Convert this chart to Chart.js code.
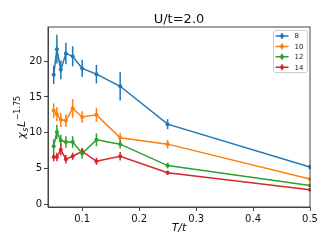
<!DOCTYPE html>
<html>
<head>
<meta charset="utf-8">
<script src="https://cdn.jsdelivr.net/npm/chart.js@4.4.0/dist/chart.umd.min.js"></script>
<style>
  html, body { margin: 0; padding: 0; background: #fff; }
  #wrap { width: 332px; height: 249px; }
</style>
</head>
<body>
<div id="wrap"><canvas id="chi"></canvas></div>
<script>
// T/t values (1/beta) and chi_s L^-1.75 per system size
const temps = [0.05, 0.0556, 0.0625, 0.0714, 0.0833, 0.1, 0.125, 0.1667, 0.25, 0.5];
const sizes = ['8', '10', '12', '14'];
const chi8 = [18.1, 21.7, 18.8, 21.1, 20.7, 19.0, 18.2, 16.5, 11.2, 5.2];
const err8 = [1.3, 2.0, 1.3, 1.5, 1.4, 1.2, 1.3, 2.0, 0.7, 0.3];
const chi10 = [13.1, 12.6, 11.8, 11.7, 13.4, 12.2, 12.5, 9.3, 8.4, 3.5];
const err10 = [1.0, 1.0, 1.0, 0.9, 1.3, 0.8, 1.0, 0.7, 0.6, 0.2];
const chi12 = [8.1, 10.1, 8.9, 8.7, 8.7, 7.1, 9.0, 8.4, 5.4, 2.6];
const err12 = [1.0, 1.0, 0.8, 0.8, 0.8, 0.7, 0.9, 0.6, 0.4, 0.2];
const chi14 = [6.6, 6.6, 7.6, 6.3, 6.7, 7.4, 6.0, 6.7, 4.4, 2.0];
const err14 = [0.6, 0.6, 0.8, 0.6, 0.5, 0.5, 0.5, 0.6, 0.3, 0.2];
const xTicks = [0.1, 0.2, 0.3, 0.4, 0.5];
const yTicks = [0, 5, 10, 15, 20];

const colors = ['#1f77b4', '#ff7f0e', '#2ca02c', '#d62728'];
const series = [chi8, chi10, chi12, chi14];
const errors = [err8, err10, err12, err14];

const datasets = series.map((vals, i) => ({
    label: sizes[i],
    data: vals.map((v, j) => ({ x: temps[j], y: v })),
    errs: errors[i],
    borderColor: colors[i],
    backgroundColor: colors[i],
    borderWidth: 1.5,
    pointRadius: 2,
    pointBorderWidth: 0,
    tension: 0,
}));

// vertical error bars
const errorBars = {
    id: 'errorBars',
    beforeDatasetsDraw(chart) {
        const { ctx, scales: { x, y } } = chart;
        ctx.save();
        chart.data.datasets.forEach(ds => {
            ctx.strokeStyle = ds.borderColor;
            ctx.lineWidth = 1.5;
            ds.data.forEach((p, j) => {
                const px = x.getPixelForValue(p.x);
                ctx.beginPath();
                ctx.moveTo(px, y.getPixelForValue(p.y - ds.errs[j]));
                ctx.lineTo(px, y.getPixelForValue(p.y + ds.errs[j]));
                ctx.stroke();
            });
        });
        ctx.restore();
    }
};

// frame, title, y label with sub/superscripts and matplotlib-style legend
const frame = {
    id: 'frame',
    afterDraw(chart) {
        const { ctx, chartArea: a } = chart;
        ctx.save();
        ctx.strokeStyle = '#444';
        ctx.lineWidth = 1;
        ctx.strokeRect(a.left, a.top, a.right - a.left, a.bottom - a.top);

        ctx.fillStyle = '#111';
        ctx.font = '13px "DejaVu Sans"';
        ctx.textAlign = 'center';
        ctx.textBaseline = 'alphabetic';
        ctx.fillText('U/t=2.0', (a.left + a.right) / 2, 23);

        // y axis label: chi_s L^{-1.75}
        const parts = [
            { t: 'χ', f: 'italic 11px "DejaVu Sans"', dy: 0 },
            { t: 's', f: 'italic 8px "DejaVu Sans"', dy: 2.5 },
            { t: 'L', f: 'italic 11px "DejaVu Sans"', dy: 0 },
            { t: '−1.75', f: '8px "DejaVu Sans"', dy: -5 },
        ];
        let total = 0;
        parts.forEach(p => { ctx.font = p.f; p.w = ctx.measureText(p.t).width; total += p.w + 0.5; });
        ctx.translate(25, (a.top + a.bottom) / 2);
        ctx.rotate(-Math.PI / 2);
        ctx.textAlign = 'left';
        let cx = -total / 2;
        parts.forEach(p => {
            ctx.font = p.f;
            ctx.fillText(p.t, cx, p.dy);
            cx += p.w + 0.5;
        });
        ctx.setTransform(1, 0, 0, 1, 0, 0);

        const bx = 273.5, by = 30.5, bw = 34, bh = 42;
        ctx.fillStyle = 'rgba(255,255,255,0.8)';
        ctx.strokeStyle = '#ccc';
        ctx.lineWidth = 1;
        ctx.beginPath();
        ctx.roundRect(bx, by, bw, bh, 2);
        ctx.fill();
        ctx.stroke();

        ctx.font = '7px "DejaVu Sans"';
        ctx.textAlign = 'left';
        ctx.textBaseline = 'middle';
        chart.data.datasets.forEach((ds, i) => {
            const ly = by + 5.5 + i * 10.4;
            ctx.strokeStyle = ds.borderColor;
            ctx.lineWidth = 1.5;
            ctx.beginPath();
            ctx.moveTo(bx + 2, ly);
            ctx.lineTo(bx + 15, ly);
            ctx.moveTo(bx + 8.5, ly - 3);
            ctx.lineTo(bx + 8.5, ly + 3);
            ctx.stroke();
            ctx.fillStyle = ds.borderColor;
            ctx.beginPath();
            ctx.arc(bx + 8.5, ly, 2, 0, Math.PI * 2);
            ctx.fill();
            ctx.fillStyle = '#222';
            ctx.fillText(ds.label, bx + 21, ly + 0.5);
        });
        ctx.restore();
    }
};

new Chart(document.getElementById('chi'), {
    type: 'line',
    data: { datasets },
    plugins: [errorBars, frame],
    options: {
        responsive: true,
        maintainAspectRatio: false,
        animation: false,
        layout: { padding: { top: 27, right: 22, left: 0, bottom: 14 } },
        plugins: {
            legend: { display: false },
            tooltip: { enabled: false },
        },
        scales: {
            x: {
                type: 'linear',
                min: 0.04,
                max: 0.5,
                afterBuildTicks: s => { s.ticks = xTicks.map(v => ({ value: v })); },
                afterFit: s => { s.height = 28; },
                grid: { drawOnChartArea: false, drawTicks: true, tickLength: 4, color: '#444' },
                border: { color: '#444' },
                ticks: {
                    color: '#111',
                    font: { family: 'DejaVu Sans', size: 10 },
                    padding: 2,
                    maxRotation: 0,
                    callback: v => v.toFixed(1),
                },
                title: {
                    display: true,
                    text: 'T/t',
                    color: '#111',
                    font: { family: 'DejaVu Sans', size: 11, style: 'italic' },
                    padding: { top: 0, bottom: 0 },
                },
            },
            y: {
                min: -0.4,
                max: 24.8,
                afterBuildTicks: s => { s.ticks = yTicks.map(v => ({ value: v })); },
                afterFit: s => { s.width = 48; },
                grid: { drawOnChartArea: false, drawTicks: true, tickLength: 4, color: '#444' },
                border: { color: '#444' },
                ticks: {
                    color: '#111',
                    font: { family: 'DejaVu Sans', size: 10 },
                    padding: 2,
                },
                title: { display: false },
            },
        },
    },
});
</script>
</body>
</html>
